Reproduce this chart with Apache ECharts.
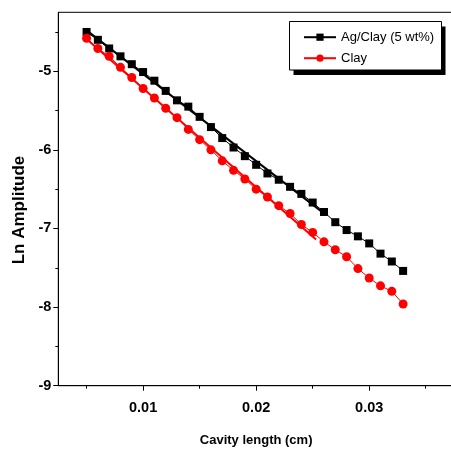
<!DOCTYPE html>
<html>
<head>
<meta charset="utf-8">
<script src="https://cdn.jsdelivr.net/npm/echarts@6/dist/echarts.min.js"></script>
<style>
html,body{margin:0;padding:0;background:#fff;}
#chart{width:451px;height:450px;}
</style>
</head>
<body>
<div id="chart"></div>
<script>
// Cavity length (cm)
var cavityLength = [0.005,0.006,0.007,0.008,0.009,0.010,0.011,0.012,0.013,0.014,0.015,0.016,0.017,0.018,0.019,0.020,0.021,0.022,0.023,0.024,0.025,0.026,0.027,0.028,0.029,0.030,0.031,0.032,0.033];
// Ln Amplitude, Ag/Clay (5 wt%)
var agClay = [-4.50,-4.60,-4.71,-4.81,-4.91,-5.01,-5.12,-5.25,-5.37,-5.45,-5.58,-5.71,-5.85,-5.97,-6.08,-6.19,-6.30,-6.38,-6.47,-6.56,-6.67,-6.79,-6.92,-7.02,-7.10,-7.19,-7.32,-7.42,-7.54];
// Ln Amplitude, Clay
var clay = [-4.58,-4.71,-4.81,-4.95,-5.08,-5.22,-5.34,-5.47,-5.59,-5.74,-5.87,-6.00,-6.14,-6.26,-6.37,-6.50,-6.60,-6.71,-6.81,-6.95,-7.05,-7.17,-7.27,-7.36,-7.51,-7.63,-7.73,-7.80,-7.96];
// Linear fit lines (end points)
var agClayFitX = [0.005, 0.0262];
var agClayFitY = [-4.48, -6.83];
var clayFitX = [0.005, 0.0253];
var clayFitY = [-4.59, -7.14];
// Tick values
var xTicks = [0.01, 0.02, 0.03];
var xMinorTicks = [0.005, 0.015, 0.025, 0.035];
var yTicks = [-9, -8, -7, -6, -5];
var yMinorTicks = [-8.5, -7.5, -6.5, -5.5, -4.5];

function zip(a, b) { return a.map(function (v, i) { return [v, b[i]]; }); }

var chart = echarts.init(document.getElementById('chart'), null, {renderer: 'canvas'});
var font = "'Liberation Sans', Arial, sans-serif";
var option = {
  animation: false,
  backgroundColor: '#fff',
  grid: {left: 58.3, right: -3, top: 12.3, bottom: 64.3, outerBoundsMode: 'none', containLabel: false,
         show: true, borderColor: '#000', borderWidth: 1, backgroundColor: 'transparent'},
  graphic: [
    {type: 'rect', z: 10, shape: {x: 293.5, y: 26.5, width: 152, height: 48.5}, style: {fill: '#000'}, silent: true},
    {type: 'rect', z: 11, shape: {x: 289.5, y: 21.5, width: 152, height: 48.5}, style: {fill: '#fff', stroke: '#000', lineWidth: 1}, silent: true}
  ],
  legend: {
    data: ['Ag/Clay (5 wt%)', 'Clay'],
    orient: 'vertical', left: 289, top: 21.7, z: 20,
    padding: [9, 7, 5, 14],
    itemWidth: 32, itemHeight: 9, itemGap: 8,
    textStyle: {fontFamily: font, fontSize: 13, color: '#000'}
  },
  xAxis: [{
    type: 'value', min: 0.0025, max: 0.0375, position: 'bottom',
    axisLine: {show: true, onZero: false, lineStyle: {color: '#000', width: 1}},
    axisTick: {show: true, customValues: xTicks, length: 5, inside: false, lineStyle: {color: '#000'}},
    axisLabel: {customValues: xTicks, color: '#000', fontFamily: font, fontWeight: 'bold', fontSize: 14.5, margin: 15},
    splitLine: {show: false},
    name: 'Cavity length (cm)', nameLocation: 'middle', nameGap: 48,
    nameTextStyle: {fontFamily: font, fontWeight: 'bold', fontSize: 13, color: '#000'}
  }, {
    type: 'value', min: 0.0025, max: 0.0375, position: 'bottom', gridIndex: 0,
    axisLine: {show: false, onZero: false},
    axisTick: {show: true, customValues: xMinorTicks, length: 3, lineStyle: {color: '#000'}},
    axisLabel: {show: false}, splitLine: {show: false}
  }],
  yAxis: [{
    type: 'value', min: -9, max: -4.25, interval: 1,
    axisLine: {show: true, onZero: false, lineStyle: {color: '#000', width: 1}},
    axisTick: {show: true, customValues: yTicks, length: 5, lineStyle: {color: '#000'}},
    axisLabel: {customValues: yTicks, color: '#000', fontFamily: font, fontWeight: 'bold', fontSize: 14.5, margin: 7},
    splitLine: {show: false},
    name: 'Ln Amplitude', nameLocation: 'middle', nameGap: 23,
    nameTextStyle: {fontFamily: font, fontWeight: 'bold', fontSize: 17, color: '#000', padding: [0, 22, 0, 0]}
  }, {
    type: 'value', min: -9, max: -4.25, position: 'left', gridIndex: 0,
    axisLine: {show: false, onZero: false},
    axisTick: {show: true, customValues: yMinorTicks, length: 3, lineStyle: {color: '#000'}},
    axisLabel: {show: false}, splitLine: {show: false}
  }],
  series: [{
    name: 'Ag/Clay (5 wt%)', type: 'line', data: zip(cavityLength, agClay),
    symbol: 'rect', symbolSize: 8, itemStyle: {color: '#000'},
    lineStyle: {color: '#000', width: 1}, z: 3
  }, {
    name: 'Clay', type: 'line', data: zip(cavityLength, clay),
    symbol: 'circle', symbolSize: 9, itemStyle: {color: '#ff0000'},
    lineStyle: {color: '#ff0000', width: 1}, z: 4
  }, {
    name: 'fitAg', type: 'line', data: zip(agClayFitX, agClayFitY),
    symbol: 'none', lineStyle: {color: '#000', width: 2}, silent: true, z: 5
  }, {
    name: 'fitClay', type: 'line', data: zip(clayFitX, clayFitY),
    symbol: 'none', lineStyle: {color: '#ff0000', width: 2}, silent: true, z: 5
  }]
};
chart.setOption(option);
</script>
</body>
</html>
